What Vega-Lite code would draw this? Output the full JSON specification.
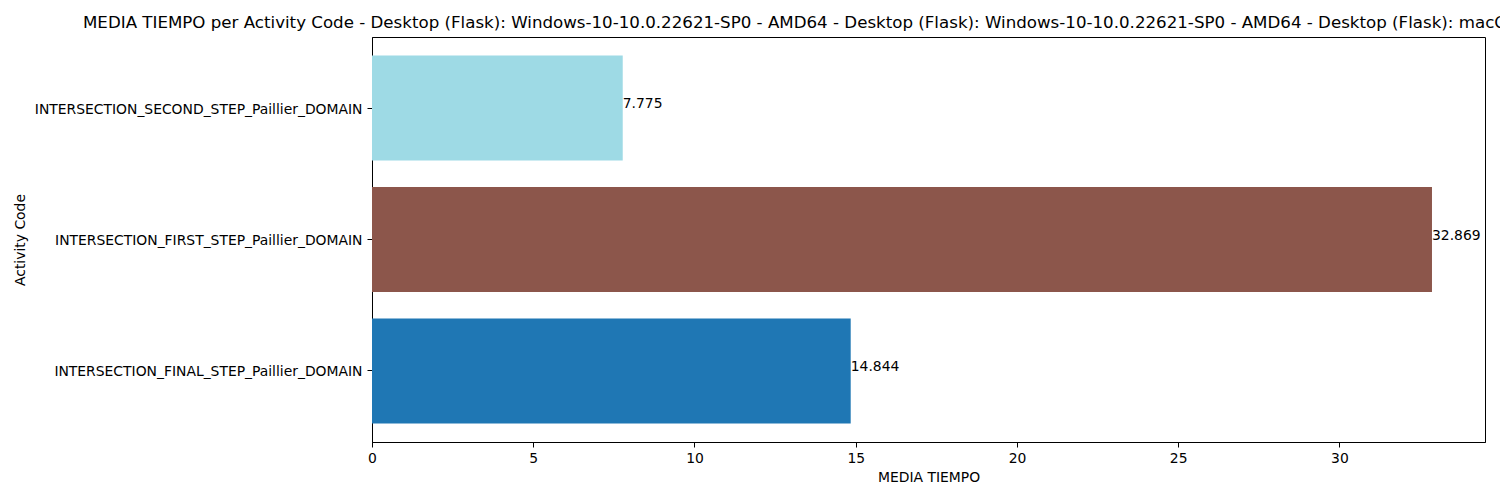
{
  "$schema": "https://vega.github.io/schema/vega-lite/v6.json",
  "autosize": {"type": "none"},
  "padding": {"left": 372, "top": 37, "right": 15, "bottom": 58},
  "width": 1113,
  "height": 405,
  "background": "white",
  "config": {
    "font": "DejaVu Sans",
    "view": {"stroke": "black", "strokeWidth": 1},
    "axis": {
      "domainColor": "black",
      "tickColor": "black",
      "labelColor": "black",
      "titleColor": "black",
      "labelFont": "DejaVu Sans",
      "titleFont": "DejaVu Sans",
      "labelFontSize": 13.9,
      "titleFontSize": 13.9,
      "titleFontWeight": "normal",
      "tickSize": 5,
      "labelLimit": 0,
      "labelFlush": false,
      "grid": false
    }
  },
  "title": {
    "text": "MEDIA TIEMPO per Activity Code - Desktop (Flask): Windows-10-10.0.22621-SP0 - AMD64 - Desktop (Flask): Windows-10-10.0.22621-SP0 - AMD64 - Desktop (Flask): macOS-14.4-arm64-arm-64bit - arm64",
    "anchor": "start",
    "frame": "group",
    "dx": -289,
    "offset": 5,
    "fontSize": 16.67,
    "fontWeight": "normal",
    "font": "DejaVu Sans",
    "color": "black"
  },
  "data": {
    "values": [
      {"activity": "INTERSECTION_SECOND_STEP_Paillier_DOMAIN", "media": 7.775},
      {"activity": "INTERSECTION_FIRST_STEP_Paillier_DOMAIN", "media": 32.869},
      {"activity": "INTERSECTION_FINAL_STEP_Paillier_DOMAIN", "media": 14.844}
    ]
  },
  "encoding": {
    "y": {
      "field": "activity",
      "type": "nominal",
      "sort": ["INTERSECTION_SECOND_STEP_Paillier_DOMAIN", "INTERSECTION_FIRST_STEP_Paillier_DOMAIN", "INTERSECTION_FINAL_STEP_Paillier_DOMAIN"],
      "scale": {"paddingInner": 0.2, "paddingOuter": 0.14},
      "axis": {"title": "Activity Code", "labelPadding": 5, "labelOffset": 1.5, "titleX": -352, "titleBaseline": "middle"}
    }
  },
  "layer": [
    {
      "mark": {"type": "bar"},
      "encoding": {
        "x": {
          "field": "media",
          "type": "quantitative",
          "scale": {"domain": [0, 34.513], "nice": false, "zero": true},
          "axis": {"title": "MEDIA TIEMPO", "values": [0, 5, 10, 15, 20, 25, 30], "labelPadding": 4, "titlePadding": 6}
        },
        "color": {
          "field": "activity",
          "type": "nominal",
          "scale": {
            "domain": ["INTERSECTION_SECOND_STEP_Paillier_DOMAIN", "INTERSECTION_FIRST_STEP_Paillier_DOMAIN", "INTERSECTION_FINAL_STEP_Paillier_DOMAIN"],
            "range": ["#9edae5", "#8c564b", "#1f77b4"]
          },
          "legend": null
        }
      }
    },
    {
      "mark": {"type": "text", "align": "left", "baseline": "alphabetic", "fontSize": 13.9, "color": "black", "font": "DejaVu Sans"},
      "encoding": {
        "x": {"field": "media", "type": "quantitative"},
        "text": {"field": "media", "type": "quantitative", "format": ".3f"}
      }
    }
  ]
}
